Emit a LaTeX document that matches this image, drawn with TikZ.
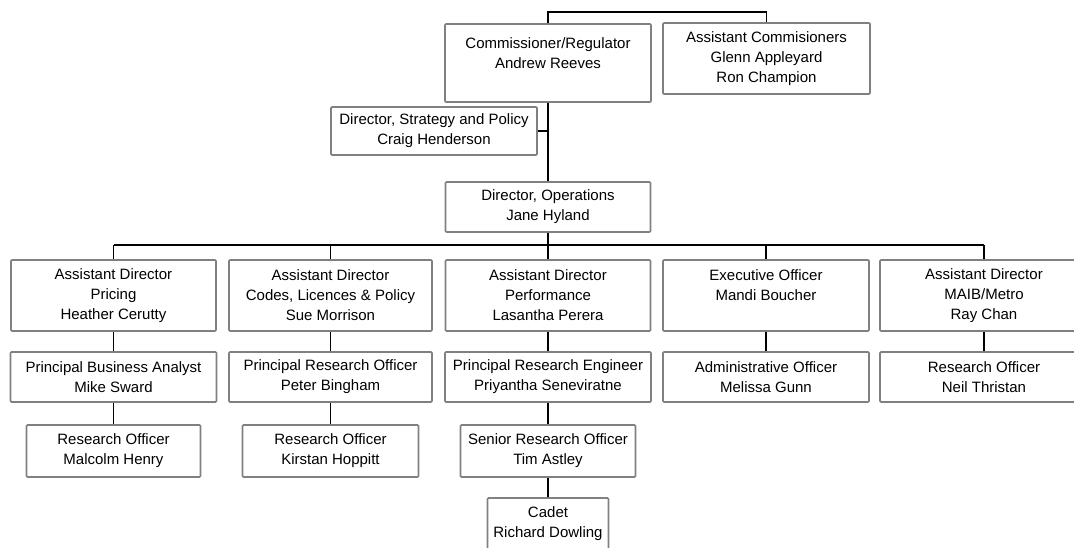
\documentclass[tikz,border=0pt]{standalone}
\usepackage{fontspec}
\setmainfont{Liberation Sans}
\usepackage{tikz}
\definecolor{boxgray}{RGB}{128,128,128}
\tikzset{
  post/.style={draw=boxgray, line width=1.6pt, rounded corners=1pt, align=center,
    inner sep=2pt, font=\fontsize{15}{20}\selectfont},
  link/.style={line width=1.2pt},
  bus/.style={line width=1.8pt},
  trunk/.style={line width=2.6pt}
}

\begin{document}
\begin{tikzpicture}[x=1pt,y=-1pt]
\clip (0,0) rectangle (1074,547);
%%Top
\node[post, minimum width=206pt, minimum height=78pt] (comm) at (548,63)
  {Commissioner/Regulator\\Andrew Reeves\\\mbox{}};
\node[post, minimum width=207pt, minimum height=71pt] (acomm) at (766.5,58.5)
  {Assistant Commisioners\\Glenn Appleyard\\Ron Champion};
\node[post, minimum width=206pt, minimum height=48pt] (strat) at (434,131)
  {Director, Strategy and Policy\\Craig Henderson};
\node[post, minimum width=205pt, minimum height=50pt] (ops) at (548,207)
  {Director, Operations\\Jane Hyland};

%%Assistant directors
\node[post, minimum width=205pt, minimum height=71pt] (ad1) at (113.5,295.5)
  {Assistant Director\\Pricing\\Heather Cerutty};
\node[post, minimum width=203pt, minimum height=71pt] (ad2) at (330.5,295.5)
  {Assistant Director\\Codes, Licences \& Policy\\Sue Morrison};
\node[post, minimum width=205pt, minimum height=71pt] (ad3) at (548,295.5)
  {Assistant Director\\Performance\\Lasantha Perera};
\node[post, minimum width=206pt, minimum height=71pt] (eo) at (766,295.5)
  {Executive Officer\\Mandi Boucher\\\mbox{}};
\node[post, minimum width=208pt, minimum height=71pt] (ad5) at (984,295.5)
  {Assistant Director\\MAIB/Metro\\Ray Chan};

%%Principals
\node[post, minimum width=206pt, minimum height=50pt] (pba) at (113.5,377)
  {Principal Business Analyst\\Mike Sward};
\node[post, minimum width=203pt, minimum height=50pt] (pro) at (330.5,377)
  {Principal Research Officer\\Peter Bingham};
\node[post, minimum width=206pt, minimum height=50pt] (pre) at (548,377)
  {Principal Research Engineer\\Priyantha Seneviratne};
\node[post, minimum width=206pt, minimum height=50pt] (ao) at (766,377)
  {Administrative Officer\\Melissa Gunn};
\node[post, minimum width=208pt, minimum height=50pt] (ro5) at (984,377)
  {Research Officer\\Neil Thristan};

%%Officers
\node[post, minimum width=174pt, minimum height=52pt] (ro1) at (113.5,451)
  {Research Officer\\Malcolm Henry};
\node[post, minimum width=176pt, minimum height=52pt] (ro2) at (330.5,451)
  {Research Officer\\Kirstan Hoppitt};
\node[post, minimum width=175pt, minimum height=52pt] (sro) at (548,451)
  {Senior Research Officer\\Tim Astley};
\node[post, minimum width=121pt, minimum height=52pt] (cadet) at (548,524)
  {Cadet\\Richard Dowling};

%%Lines
\coordinate (top) at (0,12);
\coordinate (bus) at (0,245);
\coordinate (sj) at (comm.south |- strat.east);
\draw[bus] (comm.north) -- (comm.north |- top) -| (acomm.north);
\draw[trunk] (comm.south) -- (sj);
\draw[bus] (strat.east) -- (sj);
\draw[link] (sj) -- (ops.north);
\draw[bus] (ops.south) -- (ops.south |- bus);
\draw[bus] (ad1.north |- bus) -- (ad5.north |- bus);
\foreach \n in {ad1,ad2,ad3,eo,ad5}
  \draw[link] (\n.north |- bus) -- (\n.north);
\foreach \a/\b in {ad1/pba,ad2/pro,ad3/pre,eo/ao,ad5/ro5,pba/ro1,pro/ro2,pre/sro,sro/cadet}
  \draw[link] (\a.south) -- (\b.north);
\end{tikzpicture}
\end{document}
